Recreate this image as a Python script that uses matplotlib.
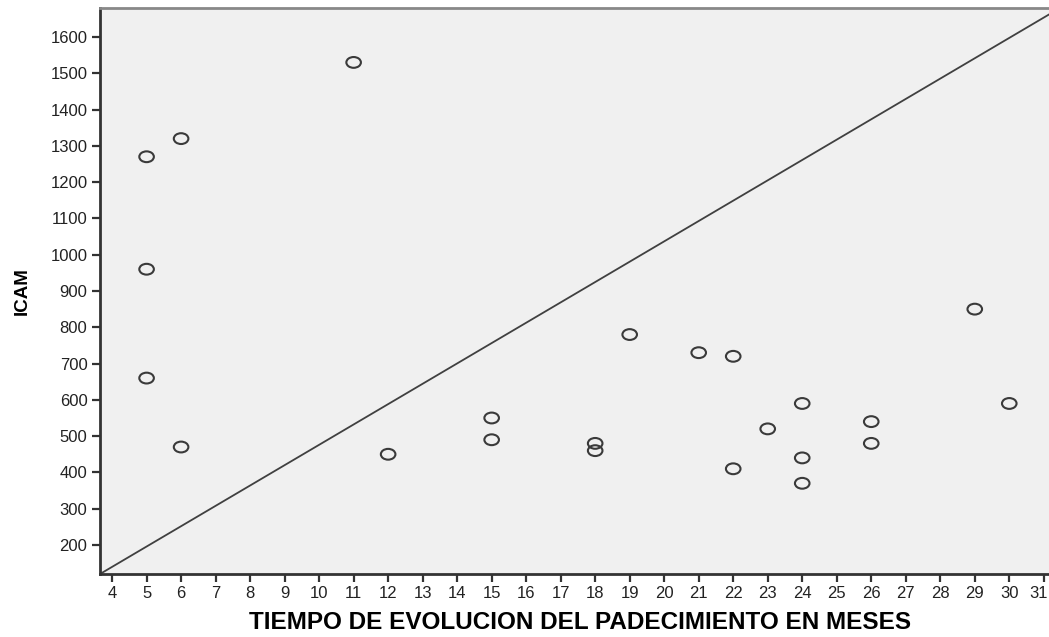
import matplotlib
matplotlib.use("Agg")
import matplotlib.pyplot as plt
from matplotlib.path import Path
from matplotlib.transforms import Affine2D, ScaledTranslation

# Months of disease evolution and ICAM values
meses = [5, 6, 11, 5, 5, 6, 12, 15, 15, 18, 18, 19, 21, 22, 22, 23, 24, 24, 24, 26, 26, 29, 30]
icam = [1270, 1320, 1530, 960, 660, 470, 450, 550, 490, 480, 460, 780, 730, 720, 410, 520, 590, 440, 370, 540, 480, 850, 590]

x_ticks = list(range(4, 32))
y_ticks = list(range(200, 1700, 100))

plt.rcParams['font.family'] = ['Liberation Sans', 'DejaVu Sans']

# Slightly wide open-ellipse marker
ellipse = Affine2D().scale(1.35, 1.0).transform_path(Path.unit_circle())

fig = plt.figure(figsize=(10.49, 6.37), dpi=100)
ax = fig.add_axes([100 / 1049, 63 / 637, 960 / 1049, 566 / 637])
ax.set_facecolor('#f0f0f0')

ax.scatter(meses, icam, s=110, marker=ellipse, facecolors='none',
           edgecolors='#3a3a3a', linewidths=1.5, zorder=3)

# Diagonal reference line across the plot area
ax.plot([0, 1], [0, 1], transform=ax.transAxes, color='#404040', lw=1.3, zorder=2)

ax.set_xlim(3.65, 31.47)
ax.set_ylim(120, 1680)
ax.set_xticks(x_ticks)
ax.set_yticks(y_ticks)
ax.tick_params(axis='both', direction='out', length=6, width=1.6, color='#333333',
               labelsize=12, labelcolor='#222222', pad=3)

# Keep the last x tick label inside the figure edge
last = ax.get_xticklabels()[-1]
last.set_horizontalalignment('right')
last.set_transform(last.get_transform() + ScaledTranslation(4 / 100, 0, fig.dpi_scale_trans))

for side in ['left', 'bottom']:
    ax.spines[side].set_color('#333333')
    ax.spines[side].set_linewidth(2)
ax.spines['top'].set_color('#888888')
ax.spines['top'].set_linewidth(2)
ax.spines['right'].set_visible(False)

ax.set_xlabel('TIEMPO DE EVOLUCION DEL PADECIMIENTO EN MESES', fontsize=17.5,
              fontweight='bold', labelpad=7)
ax.set_ylabel('ICAM', fontsize=13.5, fontweight='bold', labelpad=14)

fig.savefig('out.png', dpi=100)
